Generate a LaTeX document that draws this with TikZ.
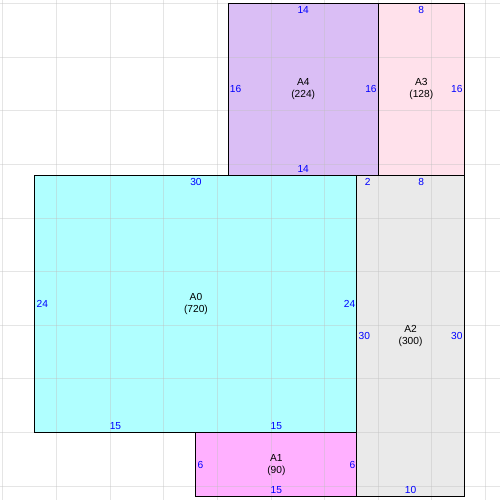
\documentclass[tikz,border=0pt]{standalone}
\usepackage{fontspec}
\setmainfont{Liberation Sans}

\definecolor{roomzero}{RGB}{176,255,255}
\definecolor{roomone}{RGB}{255,176,255}
\definecolor{roomtwo}{RGB}{234,234,234}
\definecolor{roomthree}{RGB}{255,225,235}
\definecolor{roomfour}{RGB}{218,190,245}

\begin{document}
\begin{tikzpicture}[x=10.73bp,y=10.73bp,
  room/.style={draw=black,line width=1bp},
  gridline/.style={draw=gray!50,line width=1bp,opacity=0.4},
  area/.style={align=center,font=\fontsize{10.2bp}{12.3bp}\selectfont,inner sep=0pt},
  dim/.style={text=blue,font=\fontsize{10.2bp}{12bp}\selectfont,inner xsep=1.5bp,inner ysep=2.8bp}]
  \useasboundingbox (-3.262,-0.28) rectangle (43.336,46.32);
  % fills
  \fill[roomzero] (0,6) rectangle (30,30);
  \fill[roomone] (15,0) rectangle (30,6);
  \fill[roomtwo] (30,0) rectangle (40,30);
  \fill[roomthree] (32,30) rectangle (40,46);
  \fill[roomfour] (18,30) rectangle (32,46);
  % grid
  \foreach \u in {-3,2,...,42}
    \draw[gridline] (\u,-0.28) -- (\u,46.32);
  \foreach \v in {1,6,...,46}
    \draw[gridline] (-3.262,\v) -- (43.336,\v);
  % outlines
  \draw[room] (0,6) rectangle (30,30);
  \draw[room] (15,0) rectangle (30,6);
  \draw[room] (30,0) rectangle (40,30);
  \draw[room] (32,30) rectangle (40,46);
  \draw[room] (18,30) rectangle (32,46);
  % A0
  \node[area] (a0) at (15,18) {A0\\(720)};
  \node[dim,below] (a0top) at (15,30) {30};
  \node[dim,right] (a0left) at (0,18) {24};
  \node[dim,left] (a0right) at (30,18) {24};
  \node[dim,above] (a0bota) at (7.5,6) {15};
  \node[dim,above] (a0botb) at (22.5,6) {15};
  % A1
  \node[area] (a1) at (22.5,3) {A1\\(90)};
  \node[dim,right] (a1left) at (15,3) {6};
  \node[dim,left] (a1right) at (30,3) {6};
  \node[dim,above] (a1bot) at (22.5,0) {15};
  % A2
  \node[area] (a2) at (35,15) {A2\\(300)};
  \node[dim,below] (a2topa) at (31,30) {2};
  \node[dim,below] (a2topb) at (36,30) {8};
  \node[dim,right] (a2left) at (30,15) {30};
  \node[dim,left] (a2right) at (40,15) {30};
  \node[dim,above] (a2bot) at (35,0) {10};
  % A3
  \node[area] (a3) at (36,38) {A3\\(128)};
  \node[dim,below] (a3top) at (36,46) {8};
  \node[dim,left] (a3right) at (40,38) {16};
  % A4
  \node[area] (a4) at (25,38) {A4\\(224)};
  \node[dim,below] (a4top) at (25,46) {14};
  \node[dim,above] (a4bot) at (25,30) {14};
  \node[dim,right] (a4left) at (18,38) {16};
  \node[dim,left] (a4right) at (32,38) {16};
\end{tikzpicture}
\end{document}
